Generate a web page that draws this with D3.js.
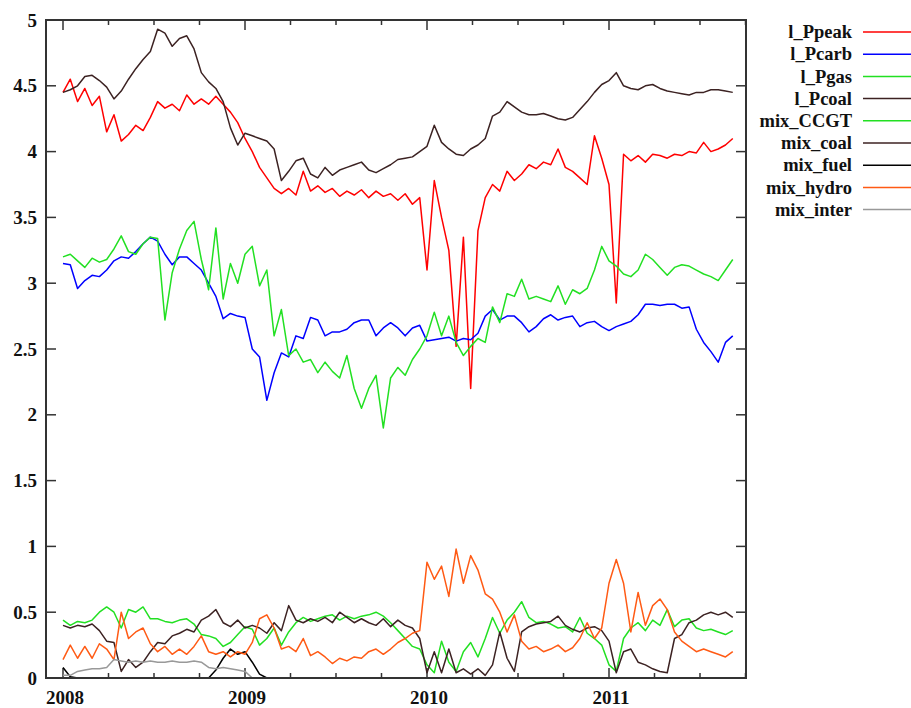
<!DOCTYPE html>
<html>
<head>
<meta charset="utf-8">
<script src="https://cdn.jsdelivr.net/npm/d3@7"></script>
<style>
  body { margin: 0; background: #fff; }
  svg { display: block; font-family: "Liberation Serif", "Times New Roman", serif; font-weight: bold; }
</style>
</head>
<body>
<svg id="chart" width="911" height="708"></svg>
<script>
// samples every 0.04 yr starting at 2008.0
const startYear = 2008;
const stepYear = 0.04;

const yearTicks = [2008, 2009, 2010, 2011];
const valueTicks = [0, 0.5, 1, 1.5, 2, 2.5, 3, 3.5, 4, 4.5, 5];

const names = ["l_Ppeak", "l_Pcarb", "l_Pgas", "l_Pcoal", "mix_CCGT", "mix_coal", "mix_fuel", "mix_hydro", "mix_inter"];
const colors = ["#ff0000", "#0000ff", "#22e022", "#3c2222", "#22e022", "#3c2222", "#000000", "#ff5a14", "#999999"];

const ppeak = [4.45,4.55,4.38,4.48,4.35,4.42,4.15,4.28,4.08,4.13,
  4.2,4.16,4.26,4.38,4.33,4.36,4.31,4.43,4.36,4.4,
  4.36,4.42,4.36,4.3,4.22,4.1,4.0,3.88,3.8,3.72,
  3.68,3.72,3.67,3.85,3.7,3.74,3.69,3.72,3.66,3.7,
  3.67,3.71,3.65,3.7,3.66,3.68,3.63,3.68,3.6,3.65,
  3.1,3.78,3.5,3.25,2.52,3.35,2.2,3.4,3.65,3.75,
  3.7,3.85,3.78,3.83,3.9,3.87,3.92,3.9,4.02,3.88,
  3.85,3.8,3.75,4.12,3.95,3.75,2.85,3.98,3.93,3.97,
  3.92,3.98,3.97,3.95,3.98,3.97,4.0,3.99,4.07,4.0,
  4.02,4.05,4.1];

const pcarb = [3.15,3.14,2.96,3.02,3.06,3.05,3.1,3.17,3.2,3.19,
  3.24,3.3,3.35,3.32,3.22,3.14,3.2,3.2,3.15,3.1,
  3.0,2.9,2.73,2.77,2.75,2.74,2.5,2.44,2.11,2.32,
  2.47,2.44,2.6,2.58,2.74,2.72,2.6,2.63,2.63,2.65,
  2.7,2.72,2.72,2.6,2.66,2.7,2.66,2.6,2.66,2.68,
  2.56,2.57,2.58,2.59,2.56,2.58,2.57,2.62,2.75,2.8,
  2.72,2.75,2.75,2.7,2.63,2.67,2.73,2.76,2.72,2.74,
  2.75,2.67,2.7,2.71,2.67,2.64,2.67,2.69,2.71,2.76,
  2.84,2.84,2.83,2.84,2.84,2.81,2.82,2.65,2.55,2.48,
  2.4,2.55,2.6];

const pgas = [3.2,3.22,3.17,3.12,3.19,3.16,3.18,3.26,3.36,3.24,
  3.22,3.3,3.35,3.34,2.72,3.08,3.26,3.4,3.47,3.18,
  2.95,3.42,2.88,3.15,3.0,3.22,3.28,2.98,3.1,2.6,
  2.8,2.45,2.5,2.4,2.42,2.32,2.4,2.33,2.28,2.45,
  2.2,2.05,2.2,2.3,1.9,2.28,2.36,2.3,2.42,2.5,
  2.6,2.78,2.6,2.75,2.55,2.45,2.52,2.58,2.55,2.82,
  2.7,2.92,2.9,3.03,2.88,2.9,2.88,2.86,2.98,2.84,
  2.95,2.92,2.96,3.1,3.28,3.17,3.13,3.07,3.05,3.1,
  3.22,3.18,3.12,3.06,3.12,3.14,3.13,3.1,3.07,3.05,
  3.02,3.1,3.18];

const pcoal = [4.45,4.47,4.5,4.57,4.58,4.54,4.49,4.4,4.46,4.55,
  4.63,4.7,4.76,4.93,4.9,4.8,4.86,4.88,4.78,4.6,
  4.53,4.48,4.38,4.18,4.05,4.14,4.12,4.1,4.08,4.02,
  3.78,3.85,3.93,3.95,3.83,3.8,3.88,3.82,3.86,3.88,
  3.9,3.92,3.86,3.84,3.87,3.9,3.94,3.95,3.96,4.0,
  4.04,4.2,4.07,4.02,3.98,3.97,4.02,4.05,4.1,4.27,
  4.3,4.38,4.34,4.3,4.28,4.28,4.29,4.27,4.25,4.24,
  4.26,4.32,4.38,4.45,4.51,4.54,4.6,4.5,4.48,4.47,
  4.5,4.51,4.48,4.46,4.45,4.44,4.43,4.45,4.45,4.47,
  4.47,4.46,4.45];

const mixCCGT = [0.44,0.4,0.43,0.42,0.44,0.5,0.54,0.5,0.38,0.52,
  0.5,0.54,0.45,0.45,0.43,0.42,0.44,0.45,0.41,0.33,
  0.32,0.3,0.24,0.27,0.33,0.39,0.37,0.25,0.3,0.38,
  0.25,0.35,0.42,0.46,0.43,0.45,0.47,0.48,0.44,0.47,
  0.45,0.47,0.48,0.5,0.47,0.42,0.36,0.3,0.24,0.22,
  0.1,0.04,0.28,0.12,0.05,0.2,0.27,0.16,0.3,0.46,
  0.34,0.44,0.5,0.58,0.46,0.42,0.43,0.41,0.38,0.39,
  0.35,0.46,0.34,0.3,0.25,0.1,0.05,0.3,0.38,0.42,
  0.36,0.44,0.4,0.52,0.39,0.44,0.45,0.38,0.36,0.37,
  0.35,0.33,0.36];

const mixCoal = [0.4,0.38,0.4,0.39,0.41,0.36,0.28,0.27,0.05,0.14,
  0.08,0.12,0.2,0.27,0.26,0.32,0.34,0.37,0.35,0.44,
  0.47,0.52,0.42,0.39,0.44,0.38,0.4,0.38,0.34,0.42,
  0.36,0.55,0.44,0.42,0.45,0.43,0.46,0.42,0.5,0.46,
  0.42,0.45,0.42,0.4,0.45,0.39,0.44,0.4,0.38,0.3,
  0.04,0.2,0.04,0.22,0.04,0.07,0.03,0.07,0.02,0.1,
  0.35,0.15,0.05,0.35,0.39,0.41,0.42,0.43,0.47,0.4,
  0.37,0.35,0.38,0.39,0.36,0.28,0.04,0.2,0.22,0.12,
  0.1,0.07,0.05,0.04,0.3,0.33,0.42,0.44,0.48,0.5,
  0.48,0.5,0.46];

const mixFuel = [0.08,0.01,0,0,0,0,0,0,0,0,
  0,0,0,0,0,0,0,0,0,0,
  0,0.06,0.15,0.22,0.18,0.2,0.12,0.03,0,0,
  0,0,0,0,0,0,0,0,0,0,
  0,0,0,0,0,0,0,0,0,0,
  0,0,0,0,0,0,0,0,0,0,
  0,0,0,0,0,0,0,0,0,0,
  0,0,0,0,0,0,0,0,0,0,
  0,0,0,0,0,0,0,0,0,0,
  0,0,0];

const mixHydro = [0.14,0.25,0.15,0.24,0.15,0.26,0.22,0.14,0.5,0.3,
  0.35,0.38,0.26,0.2,0.24,0.18,0.22,0.18,0.24,0.32,
  0.2,0.18,0.2,0.16,0.2,0.18,0.27,0.45,0.48,0.38,
  0.22,0.24,0.2,0.3,0.17,0.2,0.16,0.11,0.15,0.13,
  0.16,0.15,0.2,0.22,0.18,0.22,0.27,0.3,0.34,0.36,
  0.88,0.75,0.85,0.62,0.98,0.72,0.93,0.82,0.64,0.6,
  0.5,0.35,0.48,0.28,0.22,0.24,0.2,0.22,0.25,0.2,
  0.23,0.3,0.42,0.3,0.38,0.72,0.9,0.72,0.35,0.65,
  0.4,0.55,0.6,0.52,0.35,0.28,0.24,0.2,0.22,0.2,
  0.18,0.16,0.2];

const mixInter = [0.02,0.02,0.05,0.06,0.07,0.07,0.08,0.14,0.13,0.12,
  0.13,0.12,0.13,0.12,0.12,0.13,0.12,0.12,0.13,0.12,
  0.08,0.07,0.08,0.07,0.06,0.05,0,0,0,0,
  0,0,0,0,0,0,0,0,0,0,
  0,0,0,0,0,0,0,0,0,0,
  0,0,0,0,0,0,0,0,0,0,
  0,0,0,0,0,0,0,0,0,0,
  0,0,0,0,0,0,0,0,0,0,
  0,0,0,0,0,0,0,0,0,0,
  0,0,0];

const series = [ppeak, pcarb, pgas, pcoal, mixCCGT, mixCoal, mixFuel, mixHydro, mixInter];

const svg = d3.select("#chart");
const plotLeft = 46, plotRight = 746, plotTop = 20, plotBottom = 678;

const x = d3.scaleLinear().domain([2008 - 17 / 182, 2008 + 683 / 182]).range([plotLeft, plotRight]);
const y = d3.scaleLinear().domain([0, 5]).range([plotBottom, plotTop]);

// quarter ticks, top and bottom, pointing in
const quarterTicks = d3.range(2008, 2011.76, 0.25);
const tickG = svg.append("g").attr("stroke", "#333").attr("stroke-width", 1.5);
quarterTicks.forEach(function (t) {
  const len = Math.abs(t - Math.round(t)) < 0.01 ? 10 : 5;
  tickG.append("line").attr("x1", x(t)).attr("x2", x(t)).attr("y1", plotTop).attr("y2", plotTop + len);
  tickG.append("line").attr("x1", x(t)).attr("x2", x(t)).attr("y1", plotBottom).attr("y2", plotBottom - len);
});
valueTicks.forEach(function (v) {
  tickG.append("line").attr("x1", plotLeft).attr("x2", plotLeft + 10).attr("y1", y(v)).attr("y2", y(v));
  tickG.append("line").attr("x1", plotRight).attr("x2", plotRight - 10).attr("y1", y(v)).attr("y2", y(v));
});

// lines
const line = d3.line()
  .x(function (d, i) { return x(startYear + i * stepYear); })
  .y(function (d) { return y(d); });

series.forEach(function (s, k) {
  svg.append("path")
    .datum(s)
    .attr("fill", "none")
    .attr("stroke", colors[k])
    .attr("stroke-width", 1.5)
    .attr("stroke-linejoin", "round")
    .attr("d", line);
});

// frame
svg.append("rect")
  .attr("x", plotLeft).attr("y", plotTop)
  .attr("width", plotRight - plotLeft).attr("height", plotBottom - plotTop)
  .attr("fill", "none").attr("stroke", "#333").attr("stroke-width", 2);

// tick labels
svg.append("g").selectAll("text")
  .data(valueTicks)
  .join("text")
  .attr("x", 37)
  .attr("y", function (d) { return y(d); })
  .attr("dy", "0.35em")
  .attr("text-anchor", "end")
  .attr("font-size", 19)
  .attr("fill", "#111")
  .text(function (d) { return d3.format("")(d); });

svg.append("g").selectAll("text")
  .data(yearTicks)
  .join("text")
  .attr("x", function (d) { return x(d) + 2; })
  .attr("y", 704)
  .attr("text-anchor", "middle")
  .attr("font-size", 19)
  .attr("fill", "#111")
  .text(function (d) { return d; });

// legend
const legend = svg.append("g");
names.forEach(function (n, k) {
  const ly = 32 + k * 22.2;
  legend.append("text")
    .attr("x", 852).attr("y", ly).attr("dy", "0.33em")
    .attr("text-anchor", "end")
    .attr("font-size", 18.5)
    .attr("fill", "#111")
    .text(n);
  legend.append("line")
    .attr("x1", 863).attr("x2", 911)
    .attr("y1", ly).attr("y2", ly)
    .attr("stroke", colors[k]).attr("stroke-width", 1.5);
});
</script>
</body>
</html>
